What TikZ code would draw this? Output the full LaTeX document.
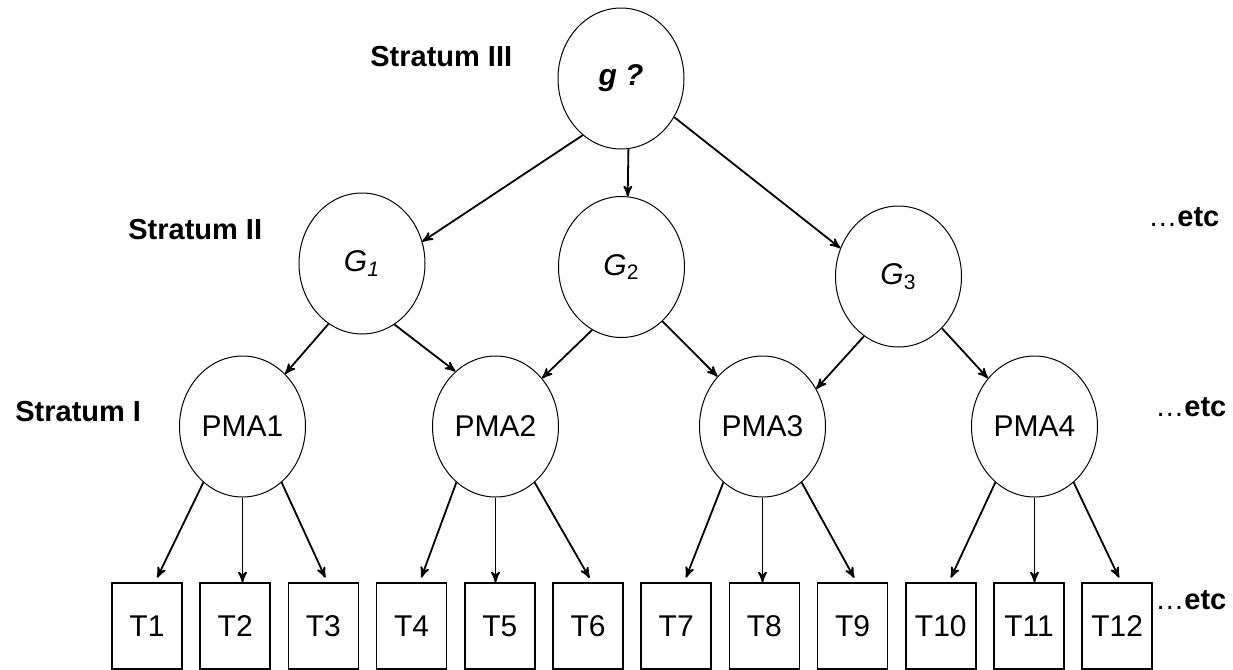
\documentclass[tikz,border=0pt]{standalone}
\usepackage{fontspec}
\setmainfont{Liberation Sans}
\usepackage{tikz}
\usetikzlibrary{shapes}
\usetikzlibrary{arrows}

\begin{document}
\begin{tikzpicture}[x=0.5pt,y=0.5pt]
	\tikzstyle{every node}+=[inner sep=0pt]
	\tikzstyle{var}=[draw,ellipse,line width=0.5pt,minimum width=63pt,minimum height=70.5pt,font=\fontsize{15}{18}\selectfont]
	\tikzstyle{test}=[draw,rectangle,line width=0.8pt,minimum width=35pt,minimum height=43pt,font=\fontsize{15}{18}\selectfont]
	\tikzstyle{lab}=[anchor=west,font=\fontsize{14.5}{17}\selectfont\bfseries]
	\tikzstyle{etc}=[anchor=west,font=\fontsize{14.5}{17}\selectfont]
	\tikzstyle{link}=[black,line width=0.9pt,->,>=stealth']
	\useasboundingbox (0,0) rectangle (1233,-670);
	\node [lab] (s3) at (370,-57) {Stratum III};
	\node [lab] (s2) at (128,-230) {Stratum II};
	\node [lab] (s1) at (15,-412) {Stratum I};
	\node [etc] (e2) at (1148,-217) {\ldots\textbf{etc}};
	\node [etc] (e1) at (1155,-407) {\ldots\textbf{etc}};
	\node [etc] (e0) at (1155,-600) {\ldots\textbf{etc}};
	\node [var] (g) at (621,-78.5) {\textbf{\textit{g ?}}};
	\node [var] (G1) at (362,-263.5) {\textit{G}\textsubscript{\textit{1}}};
	\node [var] (G2) at (621.5,-267) {\textit{G}\textsubscript{2}};
	\node [var] (G3) at (898.5,-276.5) {\textit{G}\textsubscript{3}};
	\foreach \i/\x in {1/242.5,2/495.5,3/762.5,4/1034.5}
		\node [var] (PMA\i) at (\x,-426.5) {PMA\i};
	\foreach \i in {1,...,12}
		\node [test] (T\i) at ({147+88.2*(\i-1)},-626) {T\i};
	\draw [link] (g.236) -- (G1.20);
	\draw [link] (g.276) -- (G2.85);
	\draw [link] (g.324) -- (G3.154);
	\draw [link] (G1.241) -- (PMA1.51);
	\draw [link] (G1.298) -- (PMA2.126);
	\draw [link] (G2.245) -- (PMA2.46);
	\draw [link] (G2.307) -- (PMA3.132);
	\draw [link] (G3.240) -- (PMA3.35);
	\draw [link] (G3.310) -- (PMA4.134);
	\foreach \i in {1,...,4} {
		\pgfmathtruncatemacro\a{3*\i-2}
		\pgfmathtruncatemacro\b{3*\i-1}
		\pgfmathtruncatemacro\c{3*\i}
		\draw [link,shorten >=2.5pt] (PMA\i.235) -- ([xshift=4pt]T\a.north);
		\draw [link] (PMA\i.south) -- (PMA\i.south |- T\b.north);
		\draw [link,shorten >=2.5pt] (PMA\i.305) -- ([xshift=2pt]T\c.north);
	}
\end{tikzpicture}
\end{document}
